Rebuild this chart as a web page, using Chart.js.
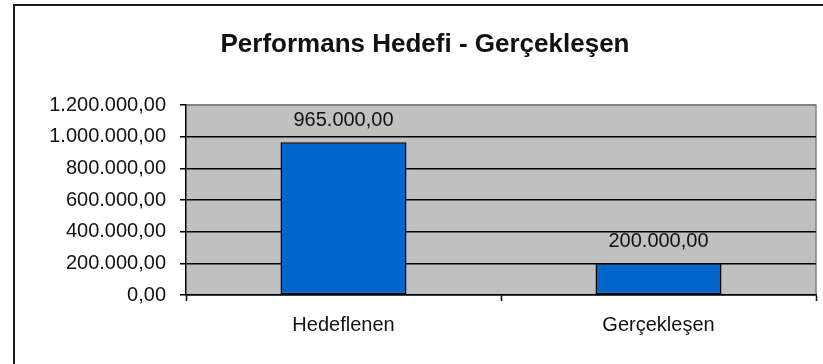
<!DOCTYPE html>
<html lang="tr">
<head>
<meta charset="utf-8">
<title>Performans Hedefi - Gerçekleşen</title>
<script src="https://cdn.jsdelivr.net/npm/chart.js@4/dist/chart.umd.min.js"></script>
<style>
  html, body { margin: 0; padding: 0; background: #fff; overflow: hidden; }
  #wrap { position: relative; width: 823px; height: 364px; }
  #frame {
    position: absolute; left: 13px; top: 4px; width: 830px; height: 380px;
    border-left: 2px solid #1a1a1a; border-top: 2px solid #1a1a1a;
  }
  #chart { position: absolute; left: 0; top: 0; }
</style>
</head>
<body>
<div id="wrap">
  <div id="frame"></div>
  <canvas id="chart" width="823" height="364"></canvas>
</div>
<script>
// Chart content
const chartTitle = 'Performans Hedefi - Gerçekleşen';
const categories = ['Hedeflenen', 'Gerçekleşen'];
const values = [965000, 200000];
const yTickValues = [0, 200000, 400000, 600000, 800000, 1000000, 1200000];
const yTickLabels = ['0,00', '200.000,00', '400.000,00', '600.000,00', '800.000,00', '1.000.000,00', '1.200.000,00'];

// Turkish number format: thousands with '.', decimals with ','
function formatTR(v) {
  const parts = v.toFixed(2).split('.');
  const intPart = parts[0].replace(/\B(?=(\d{3})+(?!\d))/g, '.');
  return intPart + ',' + parts[1];
}

const FONT = "'Liberation Sans', Arial, sans-serif";
const TEXT = '#111';

// Grey plot background with grey top/right edges
const plotArea = {
  id: 'plotArea',
  beforeDraw(chart) {
    const { ctx, chartArea: a } = chart;
    ctx.save();
    ctx.fillStyle = '#c0c0c0';
    ctx.fillRect(a.left, a.top, a.right - a.left, a.bottom - a.top);
    ctx.strokeStyle = '#808080';
    ctx.lineWidth = 1.5;
    ctx.beginPath();
    ctx.moveTo(a.left, a.top);
    ctx.lineTo(a.right, a.top);
    ctx.lineTo(a.right, a.bottom);
    ctx.stroke();
    ctx.restore();
  }
};

// Value labels above each bar
const valueLabels = {
  id: 'valueLabels',
  afterDatasetsDraw(chart) {
    const { ctx } = chart;
    const meta = chart.getDatasetMeta(0);
    ctx.save();
    ctx.font = '20px ' + FONT;
    ctx.fillStyle = TEXT;
    ctx.textAlign = 'center';
    ctx.textBaseline = 'middle';
    meta.data.forEach((bar, i) => {
      ctx.fillText(formatTR(values[i]), bar.x, bar.y - 22);
    });
    ctx.restore();
  }
};

new Chart(document.getElementById('chart'), {
  type: 'bar',
  data: {
    labels: categories,
    datasets: [{
      data: values,
      backgroundColor: '#0066cc',
      borderColor: '#000',
      borderWidth: 1.5,
      borderSkipped: false,
      barPercentage: 0.4,
      categoryPercentage: 1.0
    }]
  },
  options: {
    responsive: false,
    animation: false,
    devicePixelRatio: 1,
    layout: { padding: { left: 34, right: 7, top: 0, bottom: 0 } },
    plugins: {
      legend: { display: false },
      tooltip: { enabled: false },
      title: {
        display: true,
        text: chartTitle,
        color: TEXT,
        font: { family: FONT, size: 26, weight: 'bold' },
        padding: { top: 29, bottom: 45 }
      }
    },
    scales: {
      x: {
        grid: {
          offset: true,
          drawOnChartArea: false,
          drawTicks: true,
          tickLength: 6,
          tickColor: '#000',
          tickWidth: 1.5
        },
        border: { color: '#000', width: 1.5 },
        ticks: {
          color: TEXT,
          font: { family: FONT, size: 20 },
          padding: 12
        },
        afterFit(scale) { scale.height = 69; }
      },
      y: {
        min: 0,
        max: 1200000,
        afterBuildTicks(scale) {
          scale.ticks = yTickValues.map(v => ({ value: v }));
        },
        grid: {
          color: ctx => (ctx.tick && ctx.tick.value === 1200000) ? '#808080' : '#000',
          lineWidth: 1.5,
          tickLength: 6,
          tickColor: '#000',
          tickWidth: 1.5
        },
        border: { color: '#000', width: 1.5 },
        ticks: {
          color: TEXT,
          font: { family: FONT, size: 20 },
          padding: 14,
          callback(value) {
            const i = yTickValues.indexOf(value);
            return i >= 0 ? yTickLabels[i] : '';
          }
        },
        afterFit(scale) { scale.width = 152; }
      }
    }
  },
  plugins: [plotArea, valueLabels]
});
</script>
</body>
</html>
